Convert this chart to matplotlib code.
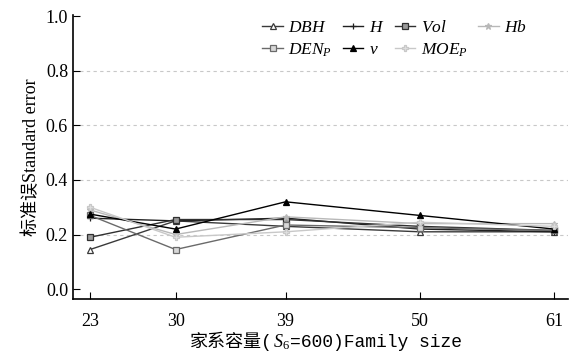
import matplotlib
matplotlib.use("Agg")
import matplotlib.pyplot as plt

# family sizes (x) and standard errors per trait
family_size = [23, 30, 39, 50, 61]
dbh = [0.145, 0.250, 0.230, 0.210, 0.210]
h = [0.260, 0.250, 0.260, 0.220, 0.210]
vol = [0.190, 0.255, 0.255, 0.230, 0.215]
hb = [0.290, 0.200, 0.265, 0.240, 0.240]
den_p = [0.270, 0.145, 0.235, 0.225, 0.215]
v = [0.275, 0.220, 0.320, 0.270, 0.220]
moe_p = [0.300, 0.190, 0.210, 0.245, 0.230]
yticks = [0.0, 0.2, 0.4, 0.6, 0.8, 1.0]

plt.rcParams['font.family'] = ['Liberation Serif', 'Noto Sans CJK SC']
plt.rcParams['mathtext.fontset'] = 'custom'
plt.rcParams['mathtext.it'] = 'Liberation Serif:italic'
plt.rcParams['mathtext.rm'] = 'Liberation Serif'

fig = plt.figure(figsize=(5.7, 3.57), dpi=100)
ax = fig.add_axes([0.128, 0.162, 0.868, 0.796])

# (data, label, color, marker, facecolor)
series = {
    'dbh': (dbh, r'$DBH$', '#3a3a3a', '^', 'white'),
    'h': (h, r'$H$', '#202020', '+', '#202020'),
    'vol': (vol, r'$Vol$', '#303030', 's', '#9a9a9a'),
    'hb': (hb, r'$Hb$', '#b8b8b8', '*', '#b8b8b8'),
    'den': (den_p, r'$DEN_P$', '#6a6a6a', 's', '#d8d8d8'),
    'v': (v, r'$v$', '#000000', '^', '#000000'),
    'moe': (moe_p, r'$MOE_P$', '#c8c8c8', 'P', '#e0e0e0'),
}

lines = {}
for key, (data, label, col, mk, fc) in series.items():
    lines[key], = ax.plot(family_size, data, color=col, lw=1.0, marker=mk, ms=5,
                          markerfacecolor=fc, markeredgecolor=col,
                          markeredgewidth=0.9, label=label)

ax.set_xlim(21.6, 62.1)
ax.set_ylim(-0.037, 1.005)
ax.set_xticks(family_size)
ax.set_yticks(yticks)
ax.set_yticklabels(['%.1f' % t for t in yticks])
for t in [0.2, 0.4, 0.6, 0.8]:
    ax.axhline(t, color='#c8c8c8', lw=0.8, ls=(0, (3, 3)), zorder=0)

ax.spines['top'].set_visible(False)
ax.spines['right'].set_visible(False)
ax.spines['left'].set_linewidth(1.2)
ax.spines['bottom'].set_linewidth(1.2)
ax.tick_params(direction='in', length=5, width=0.8, labelsize=13)
ax.tick_params(axis='x', pad=10)

ax.set_ylabel('标准误Standard error', fontsize=13, labelpad=4)

# x label built from pieces so the CJK part and the math subscript both render
pieces = ['家系容量(', r'$S_6$', '=600)Family size']
fams = [['Liberation Mono', 'Noto Sans CJK SC'], ['Liberation Serif'],
        ['Liberation Mono']]
fig.canvas.draw()
r = fig.canvas.get_renderer()
texts = [fig.text(0, 0, p, fontsize=13, family=f) for p, f in zip(pieces, fams)]
widths = [t.get_window_extent(r).width for t in texts]
x0 = 326 - sum(widths) / 2
for t, w in zip(texts, widths):
    t.set_position((x0 / 570, 10 / 357))
    x0 += w

order = ['dbh', 'den', 'h', 'v', 'vol', 'moe', 'hb']
ax.legend([lines[k] for k in order], [series[k][1] for k in order],
          ncol=4, loc='upper left', bbox_to_anchor=(250 / 570, 1 - 8 / 357),
          bbox_transform=fig.transFigure,
          frameon=False, fontsize=12.5, handlelength=1.2, handletextpad=0.3,
          columnspacing=0.6, labelspacing=0.3, borderpad=0.2)

fig.savefig('out.png', dpi=100)
